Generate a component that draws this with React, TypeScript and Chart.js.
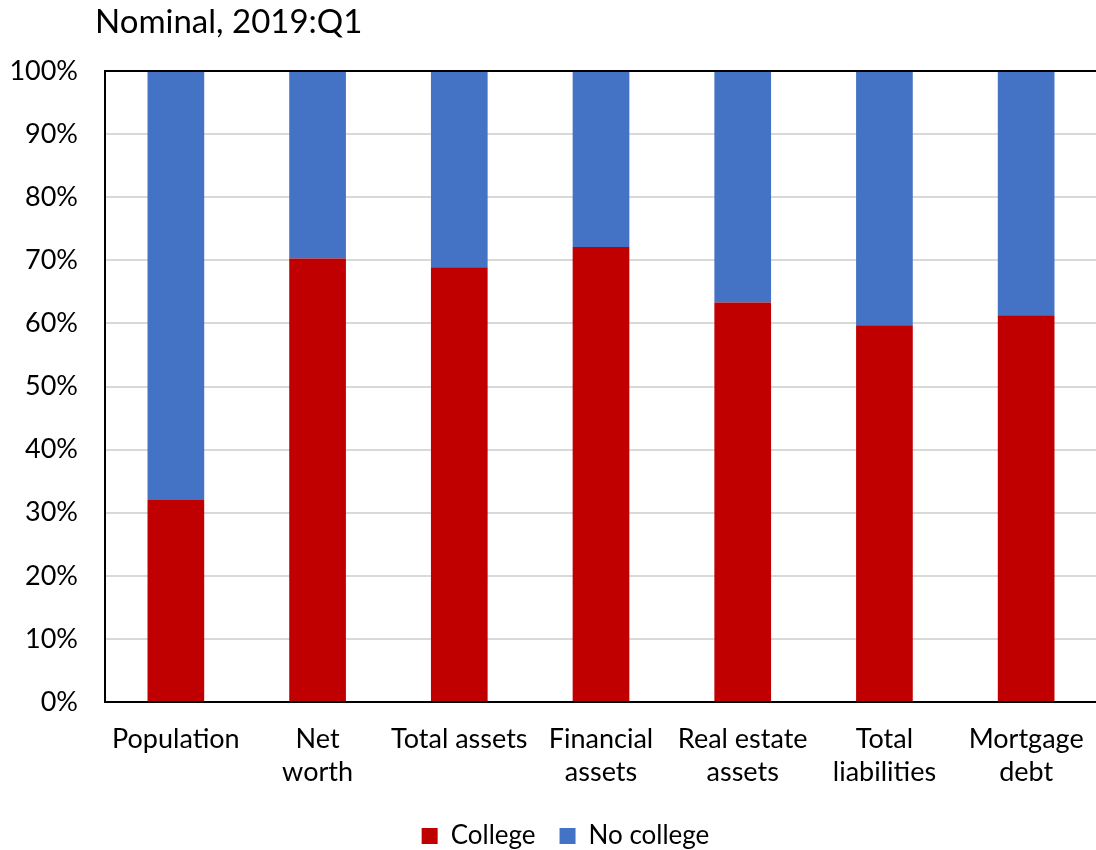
import React, { useEffect, useRef } from "react";
import { Chart, registerables } from "chart.js";

Chart.register(...registerables);

// Share of totals held by households, college vs. no college (percent)
const titleText = "Nominal, 2019:Q1";
const categories: string[][] = [
  ["Population"],
  ["Net", "worth"],
  ["Total assets"],
  ["Financial", "assets"],
  ["Real estate", "assets"],
  ["Total", "liabilities"],
  ["Mortgage", "debt"],
];
const collegeShare = [32.0, 70.3, 68.9, 72.1, 63.3, 59.7, 61.3];
const noCollegeShare = [68.0, 29.7, 31.1, 27.9, 36.7, 40.3, 38.7];
const seriesNames = ["College", "No college"];
const yTickMin = 0;
const yTickMax = 100;
const yTickStep = 10;

const FONT = "Lato, 'Open Sans', sans-serif";
const LEGEND_LEFT_INSET = 34;

// Title text in the upper left corner
const titlePlugin = {
  id: "cornerTitle",
  afterDraw(chart: Chart) {
    const ctx = chart.ctx;
    ctx.save();
    ctx.font = `33px ${FONT}`;
    ctx.fillStyle = "#000";
    ctx.textAlign = "left";
    ctx.textBaseline = "alphabetic";
    ctx.fillText(titleText, 95, 33);
    ctx.restore();
  },
};

// Black frame around the plot area
const framePlugin = {
  id: "plotFrame",
  afterDatasetsDraw(chart: Chart) {
    const { ctx, chartArea } = chart;
    ctx.save();
    ctx.strokeStyle = "#000";
    ctx.lineWidth = 2;
    ctx.strokeRect(
      chartArea.left,
      chartArea.top,
      chartArea.right - chartArea.left,
      chartArea.bottom - chartArea.top
    );
    ctx.restore();
  },
};

// Centre the legend between an inset left edge and the plot's right edge
const legendSpanPlugin = {
  id: "legendSpan",
  afterLayout(chart: any) {
    const lg = chart.legend;
    if (!lg) return;
    lg.left = LEGEND_LEFT_INSET;
    lg.right = chart.chartArea.right;
    lg.width = lg.right - lg.left;
  },
};

export default function App() {
  const canvasRef = useRef<HTMLCanvasElement | null>(null);

  useEffect(() => {
    if (!canvasRef.current) return;
    Chart.defaults.font.family = FONT;
    Chart.defaults.color = "#000";

    const chart = new Chart(canvasRef.current, {
      type: "bar",
      data: {
        labels: categories,
        datasets: [
          {
            label: seriesNames[0],
            data: collegeShare,
            backgroundColor: "#c00000",
            barPercentage: 0.4,
            categoryPercentage: 1,
          },
          {
            label: seriesNames[1],
            data: noCollegeShare,
            backgroundColor: "#4472c4",
            barPercentage: 0.4,
            categoryPercentage: 1,
          },
        ],
      },
      options: {
        responsive: false,
        animation: false,
        devicePixelRatio: 1,
        layout: { padding: { left: 0, right: 3, top: 71, bottom: 0 } },
        plugins: {
          title: { display: false },
          tooltip: { enabled: false },
          legend: {
            position: "bottom",
            maxHeight: 51,
            labels: {
              boxWidth: 16,
              boxHeight: 16,
              padding: 24,
              color: "#000",
              font: { size: 26, family: FONT },
            },
          },
        },
        scales: {
          x: {
            stacked: true,
            grid: { display: false, drawTicks: false },
            border: { display: false },
            ticks: {
              padding: 21,
              color: "#000",
              maxRotation: 0,
              autoSkip: false,
              font: { size: 27, family: FONT, lineHeight: 1.222 },
            },
            afterFit(scale: any) {
              scale.height = 97;
              scale.paddingLeft = 0;
              scale.paddingRight = 0;
            },
          },
          y: {
            stacked: true,
            min: yTickMin,
            max: yTickMax,
            grid: { color: "#d9d9d9", lineWidth: 2, drawTicks: false },
            border: { display: false },
            ticks: {
              stepSize: yTickStep,
              padding: 27,
              color: "#000",
              font: { size: 27, family: FONT },
              callback: (v: any) => `${v}%`,
            },
            afterFit(scale: any) {
              scale.width = 105;
            },
          },
        },
      },
      plugins: [titlePlugin, framePlugin, legendSpanPlugin],
    });

    return () => chart.destroy();
  }, []);

  return (
    <div
      style={{
        position: "fixed",
        left: 0,
        top: 0,
        width: 1096,
        height: 850,
        overflow: "hidden",
        background: "#fff",
      }}
    >
      <canvas ref={canvasRef} width={1100} height={850} style={{ display: "block" }} />
    </div>
  );
}
